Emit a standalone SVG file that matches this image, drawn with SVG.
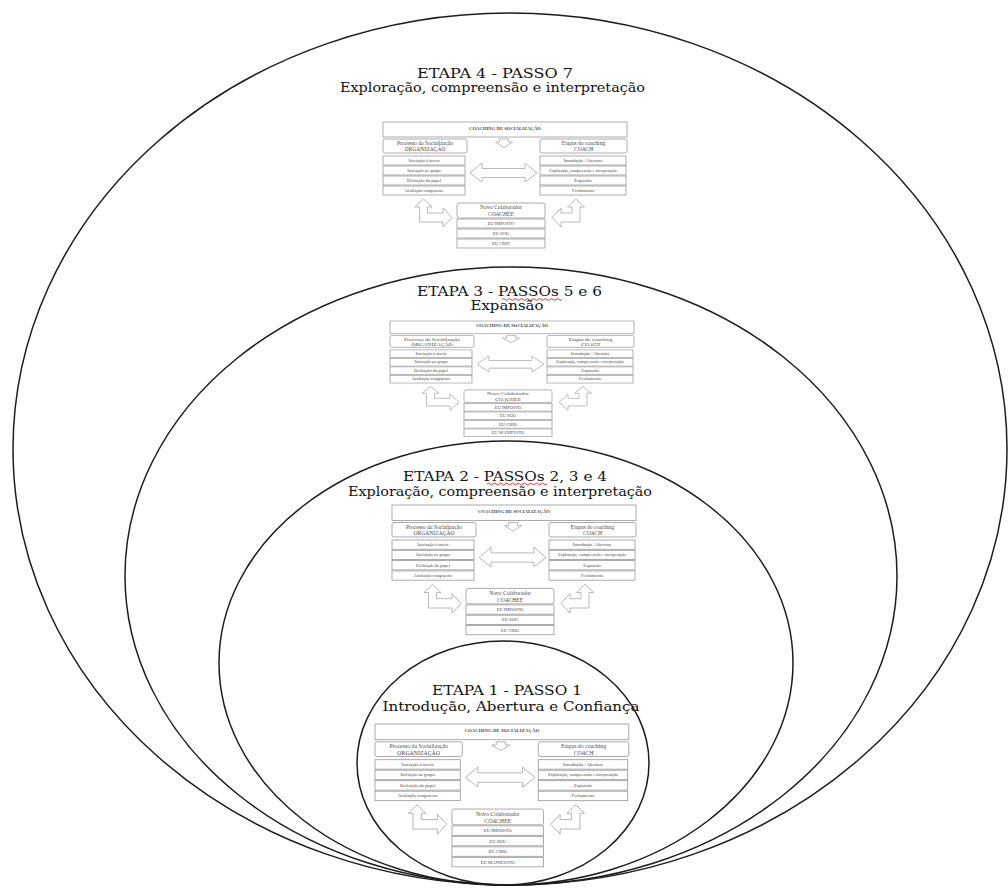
<svg xmlns="http://www.w3.org/2000/svg" xmlns:xlink="http://www.w3.org/1999/xlink" width="1008" height="888" viewBox="0 0 1008 888">
  <style>
    .ring { fill: none; stroke: #1c1c1c; stroke-width: 1.5; }
    .title { font-family: "DejaVu Serif", "Liberation Serif", serif; font-size: 13.5px; fill: #111; text-anchor: middle; }
    .box { fill: #fff; stroke: #9a9a9a; stroke-width: 0.8; }
    .arrow { fill: #fff; stroke: #a8a8a8; stroke-width: 0.8; stroke-linejoin: miter; }
    .mt { font-family: "Liberation Serif", "DejaVu Serif", serif; fill: #4a4a4a; text-anchor: middle; }
    .hd { font-size: 5.6px; }
    .it { font-size: 4.5px; }
    .sm { font-size: 4.1px; }
    .cap { font-size: 4.7px; font-weight: bold; }
    .squig { fill: none; stroke: #d42020; stroke-width: 0.9; }
  </style>
  <defs>
    <!-- socialisation coaching scheme, three "EU" rows -->
    <g id="mini3">
      <g class="nodes">
        <rect class="box" x="0" y="0" width="244" height="15"/>
        <text class="mt cap" x="122" y="7.5">COACHING DE SOCIALIZAÇÃO</text>

        <rect class="box" x="0" y="17" width="84" height="14" rx="2"/>
        <text class="mt hd" x="42" y="23">Processo da Socialização</text>
        <text class="mt hd" x="42" y="29.3">ORGANIZAÇÃO</text>
        <rect class="box" x="0" y="34" width="82" height="9"/>
        <text class="mt it" x="41" y="40">Iniciação à tarefa</text>
        <rect class="box" x="0" y="44" width="82" height="9"/>
        <text class="mt it" x="41" y="50">Iniciação ao grupo</text>
        <rect class="box" x="0" y="54" width="82" height="9"/>
        <text class="mt it" x="41" y="60">Definição do papel</text>
        <rect class="box" x="0" y="64" width="82" height="9"/>
        <text class="mt it" x="41" y="70">Avaliação congruente</text>

        <rect class="box" x="157" y="17" width="87" height="14" rx="2"/>
        <text class="mt hd" x="200.5" y="23">Etapas do coaching</text>
        <text class="mt hd" x="200.5" y="29.3" font-style="italic">COACH</text>
        <rect class="box" x="157" y="34" width="86" height="9"/>
        <text class="mt it" x="200" y="40">Introdução / Abertura</text>
        <rect class="box" x="157" y="44" width="86" height="9"/>
        <text class="mt sm" x="200" y="49.8">Exploração, compreensão e interpretação</text>
        <rect class="box" x="157" y="54" width="86" height="9"/>
        <text class="mt it" x="200" y="60">Expansão</text>
        <rect class="box" x="157" y="64" width="86" height="9"/>
        <text class="mt it" x="200" y="70">Fechamento</text>

        <rect class="box" x="74" y="81" width="88" height="15" rx="2"/>
        <text class="mt hd" x="118" y="87.4">Novo Colaborador</text>
        <text class="mt hd" x="118" y="94" font-style="italic">COACHEE</text>
        <rect class="box" x="74" y="97" width="88" height="9"/>
        <text class="mt it" x="118" y="103">EU IMPOSTO</text>
        <rect class="box" x="74" y="107" width="88" height="9"/>
        <text class="mt it" x="118" y="113">EU SOU</text>
        <rect class="box" x="74" y="117" width="88" height="9"/>
        <text class="mt it" x="118" y="123">EU CRIO</text>
      </g>
      <g class="connectors">
        <polygon class="arrow" points="116.5,17 125.5,17 125.5,20 129.5,20 121,25.5 112.5,20 116.5,20"/>
        <polygon class="arrow" points="87,51 99,41 99,46.5 142,46.5 142,41 154,51 142,60 142,55.5 99,55.5 99,60"/>
        <polygon class="arrow" points="40.5,77 49,85 44.5,85 44.5,91 60,91 60,86 69,95.5 60,105 60,100 36.5,100 36.5,85 32,85"/>
        <polygon class="arrow" points="193,77 201.5,85 197,85 197,100 178,100 178,105 169,95.5 178,86 178,91 189,91 189,85 184.5,85"/>
      </g>
    </g>
    <!-- same scheme with the fourth "EU" row -->
    <g id="mini4">
      <use href="#mini3"/>
      <rect class="box" x="74" y="127" width="88" height="9"/>
      <text class="mt it" x="118" y="133">EU MANIFESTO</text>
    </g>
  </defs>

  <rect width="1008" height="888" fill="#fff"/>

  <!-- ETAPA 4 -->
  <g id="etapa4">
    <ellipse class="ring" cx="510" cy="449" rx="497" ry="436"/>
    <text class="title" x="495" y="77.5" textLength="156" lengthAdjust="spacingAndGlyphs">ETAPA 4 - PASSO 7</text>
    <text class="title" x="492.5" y="92" textLength="305" lengthAdjust="spacingAndGlyphs">Exploração, compreensão e interpretação</text>
    <use href="#mini3" transform="translate(383,122)"/>
  </g>

  <!-- ETAPA 3 -->
  <g id="etapa3">
    <ellipse class="ring" cx="511" cy="576" rx="386" ry="309"/>
    <text class="title" x="509.5" y="295.5" textLength="185" lengthAdjust="spacingAndGlyphs">ETAPA 3 - PASSOs 5 e 6</text>
    <path class="squig" d="M502,299.5 q1.5,-1.8 3,0 t3,0 t3,0 t3,0 t3,0 t3,0 t3,0 t3,0 t3,0 t3,0 t3,0 t3,0 t3,0 t3,0 t3,0 t3,0 t3,0 t3,0 t3,0 t3,0"/>
    <text class="title" x="507" y="309.5" textLength="73" lengthAdjust="spacingAndGlyphs">Expansão</text>
    <use href="#mini4" transform="translate(390,321) scale(1,0.85)"/>
  </g>

  <!-- ETAPA 2 -->
  <g id="etapa2">
    <ellipse class="ring" cx="506" cy="663" rx="287" ry="222"/>
    <text class="title" x="505" y="481" textLength="204" lengthAdjust="spacingAndGlyphs">ETAPA 2 - PASSOs 2, 3 e 4</text>
    <path class="squig" d="M487,484 q1.5,-1.8 3,0 t3,0 t3,0 t3,0 t3,0 t3,0 t3,0 t3,0 t3,0 t3,0 t3,0 t3,0 t3,0 t3,0 t3,0 t3,0 t3,0 t3,0 t3,0 t3,0"/>
    <text class="title" x="500" y="496" textLength="304" lengthAdjust="spacingAndGlyphs">Exploração, compreensão e interpretação</text>
    <use href="#mini3" transform="translate(392,505) scale(1,1.03)"/>
  </g>

  <!-- ETAPA 1 -->
  <g id="etapa1">
    <ellipse class="ring" cx="503" cy="763" rx="146" ry="122"/>
    <text class="title" x="507" y="695" textLength="150" lengthAdjust="spacingAndGlyphs">ETAPA 1 - PASSO 1</text>
    <text class="title" x="511" y="710.5" textLength="257" lengthAdjust="spacingAndGlyphs">Introdução, Abertura e Confiança</text>
    <use href="#mini4" transform="translate(375,724) scale(1.04,1.05)"/>
  </g>
</svg>
